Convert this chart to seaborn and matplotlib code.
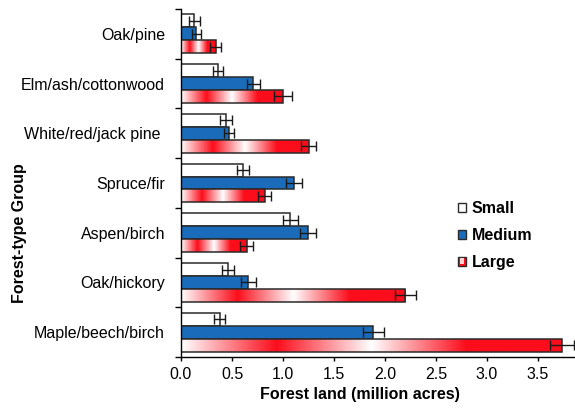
import numpy as np
import pandas as pd
import matplotlib
matplotlib.use("Agg")
import matplotlib.pyplot as plt
from matplotlib.patches import Rectangle
from matplotlib.legend_handler import HandlerBase
import seaborn as sns

# Forest area by forest-type group and stand-size class (million acres)
groups = ["Oak/pine", "Elm/ash/cottonwood", "White/red/jack pine ", "Spruce/fir",
          "Aspen/birch", "Oak/hickory", "Maple/beech/birch"]
size_classes = ["Small", "Medium", "Large"]
small = [0.13, 0.36, 0.44, 0.61, 1.07, 0.46, 0.38]
medium = [0.15, 0.71, 0.47, 1.11, 1.245, 0.66, 1.885]
large = [0.34, 1.00, 1.25, 0.82, 0.645, 2.20, 3.735]
small_err = [0.052, 0.05, 0.06, 0.06, 0.073, 0.06, 0.055]
medium_err = [0.045, 0.065, 0.05, 0.078, 0.08, 0.074, 0.105]
large_err = [0.057, 0.085, 0.077, 0.065, 0.065, 0.10, 0.12]
x_ticks = [0.0, 0.5, 1.0, 1.5, 2.0, 2.5, 3.0, 3.5]

BLUE = "#1a6cba"
RED = "#fc0d1b"
EDGE = "#2a2a2a"

sns.set_style("ticks")
plt.rcParams["font.family"] = ["Liberation Sans", "DejaVu Sans"]
plt.rcParams.update({"text.color": "black", "axes.labelcolor": "black",
                     "xtick.color": "black", "ytick.color": "black"})

df = pd.DataFrame({
    "group": np.repeat(groups, 3),
    "size": size_classes * len(groups),
    "area": [v for trio in zip(small, medium, large) for v in trio],
})

fig = plt.figure(figsize=(5.75, 4.09), dpi=100)
ax = fig.add_axes([181 / 575, 1 - 357 / 409, 1 - 181 / 575, (357 - 9) / 409])

sns.barplot(data=df, y="group", x="area", hue="size", order=groups,
            hue_order=size_classes, orient="h", width=0.78, errorbar=None,
            saturation=1,
            palette={"Small": "white", "Medium": BLUE, "Large": RED},
            edgecolor=EDGE, linewidth=1.1, legend=False, ax=ax)

ax.set_xlim(0, (575 - 181) / 102)
ax.set_ylim(len(groups) - 0.5, -0.5)

# red/white banded fill for the large-stand bars
def band_colours(n=256):
    t = np.linspace(0, 1, n)
    w = np.where(t < 0.25, t / 0.25,
        np.where(t < 0.5, 1 - (t - 0.25) / 0.25,
        np.where(t < 0.75, (t - 0.5) / 0.25, 1.0)))
    red = np.array(matplotlib.colors.to_rgb(RED))
    white = np.ones(3)
    return (white[None, :] * (1 - w[:, None]) + red[None, :] * w[:, None])[None, :, :]

grad = band_colours()
err_lists = {"Small": small_err, "Medium": medium_err, "Large": large_err}
val_lists = {"Small": small, "Medium": medium, "Large": large}
for cls, cont in zip(size_classes, ax.containers):
    for i, patch in enumerate(cont.patches):
        y0 = patch.get_y()
        h = patch.get_height()
        w = patch.get_width()
        if cls == "Large":
            img = ax.imshow(grad, extent=(0, w, y0 + h, y0), aspect="auto",
                            interpolation="bilinear", zorder=patch.get_zorder() + 0.05)
            img.set_clip_path(patch)
            patch.set_facecolor("none")
            patch.set_zorder(patch.get_zorder() + 0.1)
        ax.errorbar(val_lists[cls][i], y0 + h / 2, xerr=err_lists[cls][i],
                    fmt="none", ecolor="#1a1a1a", elinewidth=1.0,
                    capsize=3.6, capthick=1.0, zorder=5)

# axes styling
sns.despine(ax=ax)
for s in ("left", "bottom"):
    ax.spines[s].set_color("black")
    ax.spines[s].set_linewidth(1.0)

ax.set_xticks(x_ticks)
ax.set_xticklabels([f"{v:.1f}" for v in x_ticks], fontsize=11.5)
ax.tick_params(axis="x", direction="out", length=3, width=1, color="black", pad=4.5)

ax.set_yticks(range(len(groups)))
ax.set_yticklabels(groups, fontsize=11.5)
ax.set_yticks(np.arange(-0.5, len(groups)), minor=True)
ax.tick_params(axis="y", which="major", length=0, pad=11.5)
ax.tick_params(axis="y", which="minor", direction="out", length=4, width=1, color="black")

ax.set_xlabel("Forest land (million acres)", fontsize=11.5, fontweight="bold")
ax.xaxis.set_label_coords((360 - 181) / 394, -0.085)
ax.set_ylabel("Forest-type Group", fontsize=11.5, fontweight="bold")
ax.yaxis.set_label_coords(-(181 - 27) / 394, 1 - (233 - 9) / 348)


class BandHandler(HandlerBase):
    def create_artists(self, legend, orig_handle, xdescent, ydescent,
                       width, height, fontsize, trans):
        outer = Rectangle((-xdescent, -ydescent), width, height, facecolor=RED,
                          edgecolor=EDGE, linewidth=1.0, transform=trans)
        inner = Rectangle((-xdescent + width * 0.3, -ydescent + height * 0.15),
                          width * 0.4, height * 0.7, facecolor="#ffd0d0",
                          edgecolor="none", transform=trans)
        return [outer, inner]


h_small = Rectangle((0, 0), 1, 1, facecolor="white", edgecolor=EDGE, linewidth=1.0)
h_med = Rectangle((0, 0), 1, 1, facecolor=BLUE, edgecolor=EDGE, linewidth=1.0)
h_large = Rectangle((0, 0), 1, 1, facecolor=RED, edgecolor=EDGE, linewidth=1.0)
leg = fig.legend([h_small, h_med, h_large], size_classes,
                 handler_map={h_large: BandHandler()},
                 loc="upper left", bbox_to_anchor=(458 / 575, 1 - 201 / 409),
                 frameon=False, borderpad=0, borderaxespad=0,
                 handlelength=0.5, handleheight=0.5, handletextpad=0.35,
                 labelspacing=0.75, prop={"size": 11.5, "weight": "bold"})

fig.savefig("out.png", dpi=100)
